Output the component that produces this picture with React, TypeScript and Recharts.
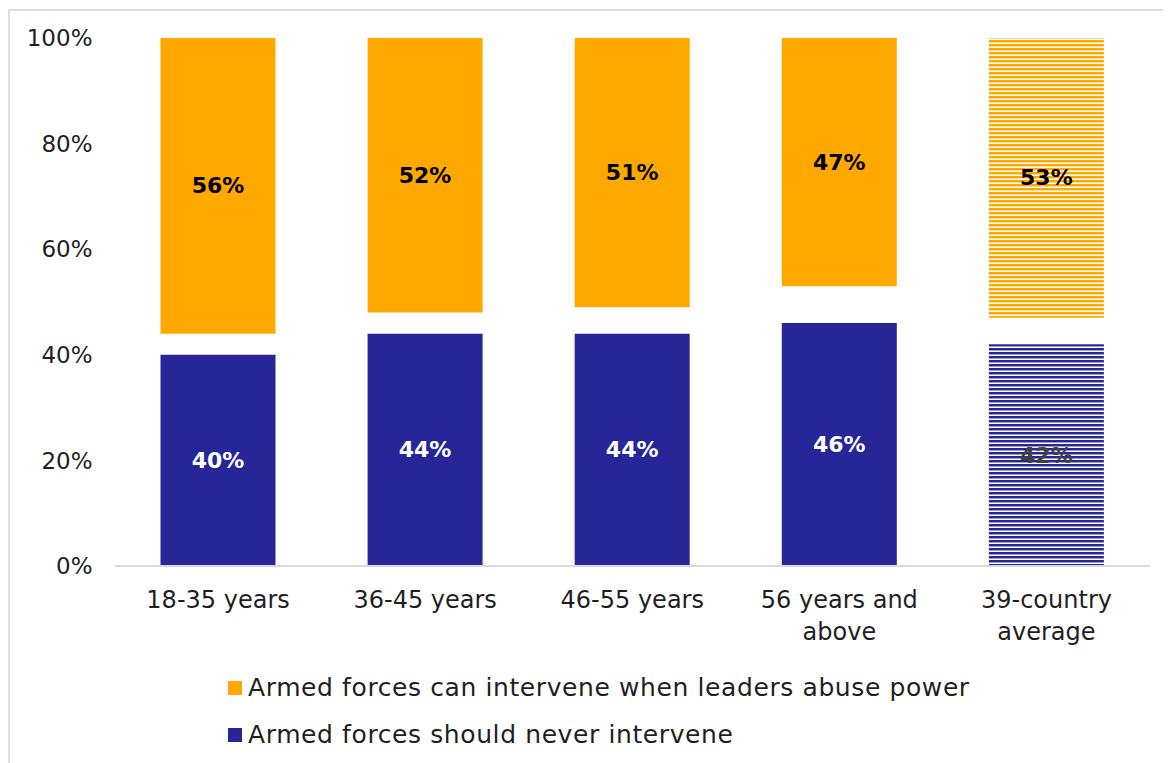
import React from "react";
import { BarChart, Bar, XAxis, YAxis, Cell, LabelList } from "recharts";

const categories = ["18-35 years", "36-45 years", "46-55 years", "56 years and\nabove", "39-country\naverage"];
const neverValues = [40, 44, 44, 46, 42];
const canValues = [56, 52, 51, 47, 53];
const yTicks = [0, 20, 40, 60, 80, 100];
const seriesNames = ["Armed forces can intervene when leaders abuse power", "Armed forces should never intervene"];

const ORANGE = "#FFA800";
const BLUE = "#262699";
const FONT = "'DejaVu Sans', sans-serif";

const data = categories.map((c, i) => ({
  name: c,
  never: neverValues[i],
  gap: 100 - neverValues[i] - canValues[i],
  can: canValues[i],
}));

const lastIndex = categories.length - 1;

const CatTick = (props: any) => {
  const { x, y, payload } = props;
  const lines = String(payload.value).split("\n");
  return (
    <g transform={`translate(${x},${y})`}>
      {lines.map((l: string, i: number) => (
        <text key={i} x={0} y={42 + i * 32} textAnchor="middle" fill="#1f1f1f" fontSize={24} fontFamily={FONT}>
          {l}
        </text>
      ))}
    </g>
  );
};

const makeLabel = (kind: "never" | "can") => (p: any) => {
  const { x, y, width, height, value, index } = p;
  let fill = kind === "can" ? "#000" : "#fff";
  if (kind === "never" && index === lastIndex) fill = "#404040";
  return (
    <text
      x={Number(x) + Number(width) / 2}
      y={Number(y) + Number(height) / 2}
      textAnchor="middle"
      dominantBaseline="central"
      fill={fill}
      fontSize={22}
      fontWeight="bold"
      fontFamily={FONT}
    >
      {`${value}%`}
    </text>
  );
};

export default function App() {
  return (
    <div style={{ position: "relative", width: 1163, height: 755, overflow: "hidden", fontFamily: FONT }}>
      <style>{`html,body{overflow:hidden;}`}</style>
      <div
        style={{
          position: "absolute",
          left: 0,
          top: 1,
          width: 1300,
          height: 900,
          borderLeft: "2px solid #dedede",
          borderTop: "2px solid #dedede",
        }}
      />
      <div style={{ position: "absolute", left: 0, top: 0 }}>
        <BarChart
          width={1155}
          height={747}
          data={data}
          margin={{ top: 30, right: 13, left: 0, bottom: 109 }}
          barSize={115}
        >
          <defs>
            <pattern id="stripeOrange" width="8" height="4" patternUnits="userSpaceOnUse">
              <rect x="0" y="0" width="8" height="4" fill="#ffffff" />
              <rect x="0" y="0" width="8" height="2" fill={ORANGE} />
              <rect x="0" y="2" width="8" height="1" fill="#ffd98a" />
            </pattern>
            <pattern id="stripeBlue" width="8" height="4" patternUnits="userSpaceOnUse">
              <rect x="0" y="0" width="8" height="4" fill="#ffffff" />
              <rect x="0" y="0" width="8" height="2" fill={BLUE} />
              <rect x="0" y="2" width="8" height="1" fill="#9a9ad0" />
            </pattern>
          </defs>
          <XAxis
            dataKey="name"
            interval={0}
            tickLine={false}
            tickSize={0}
            tickMargin={0}
            height={80}
            axisLine={{ stroke: "#d9d9d9", strokeWidth: 2 }}
            tick={<CatTick />}
          />
          <YAxis
            type="number"
            domain={[0, 100]}
            ticks={yTicks}
            width={106.5}
            axisLine={false}
            tickLine={false}
            tickSize={0}
            tickMargin={22}
            tickFormatter={(v: number) => `${v}%`}
            tick={{ fill: "#1f1f1f", fontSize: 23, fontFamily: FONT }}
          />
          <Bar dataKey="never" stackId="a" fill={BLUE} isAnimationActive={false}>
            {data.map((d, i) => (
              <Cell key={i} fill={i === lastIndex ? "url(#stripeBlue)" : BLUE} />
            ))}
            <LabelList dataKey="never" content={makeLabel("never")} />
          </Bar>
          <Bar dataKey="gap" stackId="a" fill="transparent" isAnimationActive={false} />
          <Bar dataKey="can" stackId="a" fill={ORANGE} isAnimationActive={false}>
            {data.map((d, i) => (
              <Cell key={i} fill={i === lastIndex ? "url(#stripeOrange)" : ORANGE} />
            ))}
            <LabelList dataKey="can" content={makeLabel("can")} />
          </Bar>
        </BarChart>
      </div>
      {[ORANGE, BLUE].map((c, i) => (
        <div
          key={i}
          style={{
            position: "absolute",
            left: 220,
            top: 665 + i * 47,
            height: 30,
            display: "flex",
            alignItems: "center",
            whiteSpace: "nowrap",
          }}
        >
          <div style={{ width: 14, height: 14, background: c, marginRight: 6 }} />
          <span style={{ fontSize: 25, lineHeight: "30px", letterSpacing: 0.6, color: "#1f1f1f", fontFamily: FONT }}>
            {seriesNames[i]}
          </span>
        </div>
      ))}
    </div>
  );
}
